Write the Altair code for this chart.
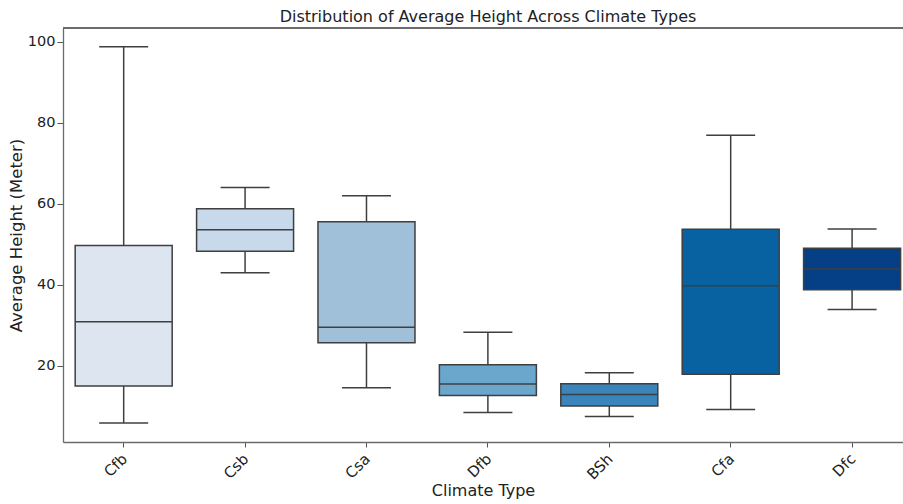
import altair as alt
import pandas as pd

climates = ["Cfb", "Csb", "Csa", "Dfb", "BSh", "Cfa", "Dfc"]
whisker_low = [5.9, 43.0, 14.6, 8.5, 7.5, 9.2, 33.9]
q1 = [15.0, 48.3, 25.7, 12.7, 10.1, 17.9, 38.8]
median = [30.9, 53.6, 29.5, 15.5, 12.9, 39.8, 43.9]
q3 = [49.7, 58.8, 55.6, 20.3, 15.6, 53.7, 49.0]
whisker_high = [98.8, 64.0, 62.0, 28.3, 18.3, 76.9, 53.8]
colors = ["#dde6f0", "#c7d9eb", "#a0c0da", "#6ba6cc", "#3a85bb", "#0862a1", "#053f86"]

df = pd.DataFrame({
    "climate": climates,
    "lo": whisker_low,
    "q1": q1,
    "med": median,
    "q3": q3,
    "hi": whisker_high,
})

LINE = "#3f3f3f"
SPINE = "#6b6b6b"
FONT = "DejaVu Sans"

xscale = alt.Scale(domain=climates, paddingInner=0.5, paddingOuter=0.2096, align=0.596)
yscale = alt.Scale(domain=[1.2, 103.4], nice=False, zero=False)

x_enc = alt.X(
    "climate:N",
    scale=xscale,
    sort=climates,
    bandPosition=0.5,
    title="Climate Type",
    axis=alt.Axis(
        labelAngle=-45,
        labelAlign="right",
        labelBaseline="top",
        labelFontSize=15,
        labelColor="#222222",
        labelPadding=4,
        labelOffset=-4,
        tickSize=5,
        tickColor="#555555",
        domain=True,
        domainColor=SPINE,
        domainWidth=1.3,
        titleFontSize=16,
        titleFontWeight="normal",
        titleColor="#222222",
        titlePadding=0,
        grid=False,
    ),
)

y_axis = alt.Axis(
    values=[20, 40, 60, 80, 100],
    labelFontSize=14.5,
    labelColor="#222222",
    tickSize=6,
    tickColor="#555555",
    labelPadding=2,
    domain=True,
    domainColor=SPINE,
    domainWidth=1.3,
    grid=False,
    title="Average Height (Meter)",
    titleFontSize=16.5,
    titleFontWeight="normal",
    titleColor="#222222",
    titlePadding=3,
)

base = alt.Chart(df)

whisk_low = base.mark_rule(color=LINE, strokeWidth=1.5).encode(
    x=x_enc,
    y=alt.Y("lo:Q", scale=yscale, axis=y_axis),
    y2="q1:Q",
)
whisk_high = base.mark_rule(color=LINE, strokeWidth=1.5).encode(
    x=alt.X("climate:N", scale=xscale, sort=climates, bandPosition=0.5),
    y=alt.Y("q3:Q", scale=yscale),
    y2="hi:Q",
)
box = base.mark_bar(size=97, stroke=LINE, strokeWidth=1.5).encode(
    x=alt.X("climate:N", scale=xscale, sort=climates),
    y=alt.Y("q1:Q", scale=yscale),
    y2="q3:Q",
    color=alt.Color("climate:N", scale=alt.Scale(domain=climates, range=colors), legend=None),
)
med = base.mark_tick(size=97, thickness=1.5, color=LINE, opacity=1).encode(
    x=alt.X("climate:N", scale=xscale, sort=climates),
    y=alt.Y("med:Q", scale=yscale),
)
cap_lo = base.mark_tick(size=49, thickness=1.5, color=LINE, opacity=1).encode(
    x=alt.X("climate:N", scale=xscale, sort=climates),
    y=alt.Y("lo:Q", scale=yscale),
)
cap_hi = base.mark_tick(size=49, thickness=1.5, color=LINE, opacity=1).encode(
    x=alt.X("climate:N", scale=xscale, sort=climates),
    y=alt.Y("hi:Q", scale=yscale),
)
top_spine = alt.Chart(df).mark_rule(color=SPINE, strokeWidth=1.3).encode(
    x=alt.value(0), x2=alt.value(840), y=alt.value(0)
)

chart = (
    alt.layer(whisk_low, whisk_high, box, med, cap_lo, cap_hi, top_spine)
    .properties(
        width=840,
        height=414,
        autosize=alt.AutoSizeParams(type="none"),
        padding={"left": 63, "top": 28, "right": 0, "bottom": 62},
        title=alt.TitleParams(
            "Distribution of Average Height Across Climate Types",
            fontSize=16,
            fontWeight="normal",
            color="#222222",
            font=FONT,
            anchor="middle",
            offset=2,
            dx=5,
        ),
    )
    .configure(font=FONT, background="white")
    .configure_view(stroke=None)
    .configure_axis(labelFont=FONT, titleFont=FONT)
)

chart.save("out.html", embed_options={"renderer": "svg", "actions": False})
